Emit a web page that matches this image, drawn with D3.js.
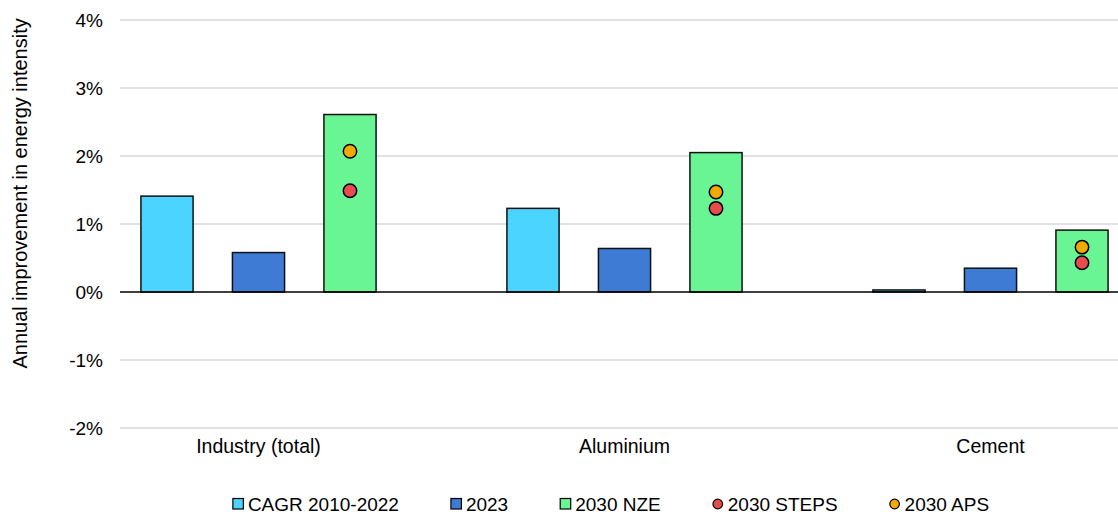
<!DOCTYPE html>
<html>
<head>
<meta charset="utf-8">
<script src="https://cdn.jsdelivr.net/npm/d3@7"></script>
<style>
  html, body { margin: 0; padding: 0; background: #fff; }
  svg { display: block; font-family: "Liberation Sans", Arial, sans-serif; }
</style>
</head>
<body>
<svg id="chart" width="1118" height="515"></svg>
<script>
// ---- data ----
const categories = ["Industry (total)", "Aluminium", "Cement"];
const barSeries = ["CAGR 2010-2022", "2023", "2030 NZE"];
const cagr = [1.41, 1.23, 0.03];
const y2023 = [0.58, 0.64, 0.35];
const nze = [2.61, 2.05, 0.91];
const steps = [1.49, 1.23, 0.43];
const aps = [2.07, 1.47, 0.66];
const yTicks = [-2, -1, 0, 1, 2, 3, 4];
const yTitle = "Annual improvement in energy intensity";
const legendLabels = ["CAGR 2010-2022", "2023", "2030 NZE", "2030 STEPS", "2030 APS"];

const colors = {
  "CAGR 2010-2022": "#4AD4FF",
  "2023": "#3D7BD4",
  "2030 NZE": "#69F594",
  "2030 STEPS": "#E64C4C",
  "2030 APS": "#F3AA00"
};

const barValues = { "CAGR 2010-2022": cagr, "2023": y2023, "2030 NZE": nze };

// ---- layout ----
const svg = d3.select("#chart");
const plotLeft = 120, plotRight = 1118;

const y = d3.scaleLinear().domain([-2, 4]).range([428, 20]);
const x0 = d3.scaleBand().domain(categories).range([75.5, 1173.5]);
const x1 = d3.scaleBand().domain(barSeries)
  .range([-137.25, 137.25]).paddingInner(0.43).paddingOuter(0.215);
const groupCenter = c => x0(c) + x0.bandwidth() / 2;

// gridlines
svg.append("g").selectAll("line").data(yTicks.filter(t => t !== 0)).join("line")
  .attr("x1", plotLeft).attr("x2", plotRight)
  .attr("y1", d => y(d)).attr("y2", d => y(d))
  .attr("stroke", "#D9D9D9").attr("stroke-width", 1.5);

// y tick labels
const yAxis = d3.axisLeft(y).tickValues(yTicks).tickFormat(d => d + "%").tickSize(0).tickPadding(0);
const ya = svg.append("g").attr("transform", `translate(103,0)`).call(yAxis);
ya.select(".domain").remove();
ya.selectAll("text").attr("font-size", 19).attr("fill", "#000")
  .attr("font-family", "Liberation Sans, Arial, sans-serif");

// y title
svg.append("text")
  .attr("transform", `translate(27,${y(1.45)}) rotate(-90)`)
  .attr("text-anchor", "middle")
  .attr("font-size", 20)
  .attr("fill", "#000")
  .text(yTitle);

// bars
const groups = svg.append("g").selectAll("g").data(categories).join("g")
  .attr("transform", c => `translate(${groupCenter(c)},0)`);

groups.selectAll("rect")
  .data((c, i) => barSeries.map(s => ({ s, v: barValues[s][i] })))
  .join("rect")
  .attr("x", d => x1(d.s))
  .attr("width", x1.bandwidth())
  .attr("y", d => y(Math.max(0, d.v)))
  .attr("height", d => Math.abs(y(d.v) - y(0)))
  .attr("fill", d => colors[d.s])
  .attr("stroke", "#111")
  .attr("stroke-width", 1.5);

// zero line
svg.append("line")
  .attr("x1", plotLeft).attr("x2", plotRight)
  .attr("y1", y(0)).attr("y2", y(0))
  .attr("stroke", "#000").attr("stroke-width", 1.5);

// scatter dots (placed on NZE bar)
const dotX = c => groupCenter(c) + x1("2030 NZE") + x1.bandwidth() / 2;
[["2030 STEPS", steps], ["2030 APS", aps]].forEach(([name, vals]) => {
  svg.append("g").selectAll("circle").data(categories).join("circle")
    .attr("cx", c => dotX(c))
    .attr("cy", (c, i) => y(vals[i]))
    .attr("r", 6.7)
    .attr("fill", colors[name])
    .attr("stroke", "#000")
    .attr("stroke-width", 1.5);
});

// category labels
svg.append("g").selectAll("text").data(categories).join("text")
  .attr("x", c => groupCenter(c))
  .attr("y", 453)
  .attr("text-anchor", "middle")
  .attr("font-size", 19.5)
  .attr("fill", "#000")
  .text(c => c);

// legend
const legend = svg.append("g");
const legendY = 511;
const items = legend.selectAll("g").data(legendLabels).join("g");
items.append("text")
  .attr("x", 15).attr("y", legendY)
  .attr("font-size", 19).attr("fill", "#000")
  .text(d => d);
items.each(function(d) {
  const g = d3.select(this);
  if (d === "2030 STEPS" || d === "2030 APS") {
    g.insert("circle", "text").attr("cx", 5).attr("cy", legendY - 7).attr("r", 4.8)
      .attr("fill", colors[d]).attr("stroke", "#000").attr("stroke-width", 1.2);
  } else {
    g.insert("rect", "text").attr("x", 0).attr("y", legendY - 12.5).attr("width", 10.5).attr("height", 10.5)
      .attr("fill", colors[d]).attr("stroke", "#000").attr("stroke-width", 1.2);
  }
});
let cursor = 0;
const gap = 52;
const positions = [];
items.each(function() {
  const w = d3.select(this).select("text").node().getComputedTextLength() + 15;
  positions.push(cursor);
  cursor += w + gap;
});
const totalW = cursor - gap;
const startX = 611 - totalW / 2;
items.attr("transform", (d, i) => `translate(${startX + positions[i]},0)`);
</script>
</body>
</html>
